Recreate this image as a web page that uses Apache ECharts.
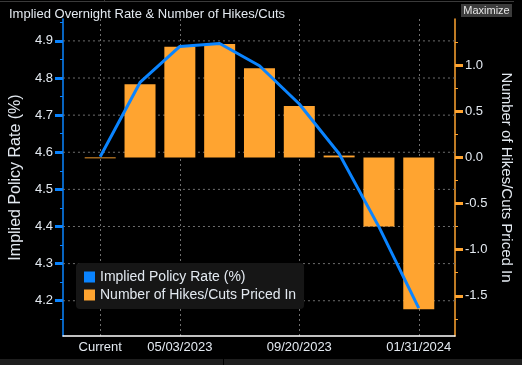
<!DOCTYPE html>
<html>
<head>
<meta charset="utf-8">
<script src="https://cdn.jsdelivr.net/npm/echarts@6/dist/echarts.min.js"></script>
<style>
html,body{margin:0;padding:0;background:#000;}
#chart{width:522px;height:365px;}
</style>
</head>
<body>
<div id="chart"></div>
<script>
const categories = ['Current','03/22/2023','05/03/2023','06/14/2023','07/26/2023','09/20/2023','11/01/2023','12/13/2023','01/31/2024'];
const labelIndices = [0, 2, 5, 8];
const rateTicks = [4.2, 4.3, 4.4, 4.5, 4.6, 4.7, 4.8, 4.9];
const hikesTicks = [-1.5, -1.0, -0.5, 0.0, 0.5, 1.0];
const policyRate = [4.588, 4.788, 4.885, 4.893, 4.833, 4.730, 4.596, 4.399, 4.180];
const hikesCuts = [-0.01, 0.794, 1.198, 1.228, 0.967, 0.556, 0.02, -0.75, -1.647];

const X_MIN = -0.935, X_MAX = 8.91;
const FONT = 'Liberation Sans';
const TXT = '#e3e9f0';
const BLUE = '#0a84ff';
const ORANGE = '#ffa430';
const GRIDC = '#6e6e6e';

const gridSeries = rateTicks.map(v => ({
  name: 'grid ' + v,
  type: 'line', yAxisIndex: 0,
  silent: true, symbol: 'none', showSymbol: false,
  z: 1,
  lineStyle: {color: GRIDC, type: [2, 3], width: 1},
  data: [[X_MIN, v], [X_MAX, v]]
}));

const chart = echarts.init(document.getElementById('chart'), null, {renderer: 'canvas'});
chart.setOption({
  backgroundColor: '#000',
  animation: false,
  textStyle: {fontFamily: FONT},
  title: {
    text: 'Implied Overnight Rate & Number of Hikes/Cuts',
    left: 4, top: 3,
    textStyle: {color: TXT, fontSize: 13, fontWeight: 'normal', fontFamily: FONT}
  },
  graphic: [
    {type: 'line', shape: {x1: 0, y1: 1.5, x2: 514, y2: 1.5}, style: {stroke: '#3a3a3a', lineWidth: 1}},
    {type: 'line', shape: {x1: 104.5, y1: 0, x2: 104.5, y2: 2}, style: {stroke: '#3a3a3a', lineWidth: 1}},
    {type: 'rect', shape: {x: 0, y: 359, width: 522, height: 6}, style: {fill: '#1e1e1e'}},
    {type: 'line', shape: {x1: 223.5, y1: 359, x2: 223.5, y2: 365}, style: {stroke: '#000', lineWidth: 1}},
    {type: 'group', left: 461, top: 4, children: [
      {type: 'rect', shape: {x: 0, y: 0, width: 51, height: 13}, style: {fill: '#3c3c3c'}},
      {type: 'text', x: 25.5, y: 6.5, style: {text: 'Maximize', fill: '#e6e6e6', font: '11px ' + FONT, align: 'center', verticalAlign: 'middle'}}
    ]}
  ],
  legend: {
    orient: 'vertical',
    left: 76, top: 263,
    backgroundColor: '#161616',
    borderRadius: 4,
    padding: [7, 8, 7, 8],
    itemWidth: 11, itemHeight: 11, itemGap: 4,
    icon: 'rect',
    textStyle: {color: TXT, fontSize: 14, fontFamily: FONT},
    data: ['Implied Policy Rate (%)', 'Number of Hikes/Cuts Priced In']
  },
  grid: {left: 58, right: 67, top: 19, bottom: 29, containLabel: false},
  xAxis: {
    type: 'value',
    min: X_MIN, max: X_MAX,
    axisLine: {show: true, onZero: false, lineStyle: {color: '#ffffff', width: 1.5}},
    axisTick: {show: false, customValues: labelIndices},
    axisLabel: {
      customValues: labelIndices,
      color: TXT, fontSize: 13, fontFamily: FONT, margin: 5,
      formatter: v => categories[Math.round(v)]
    },
    splitLine: {show: true, lineStyle: {color: GRIDC, type: [2, 3], width: 1}}
  },
  yAxis: [
    {
      type: 'value', position: 'left',
      min: 4.105, max: 4.959, splitNumber: 8,
      name: 'Implied Policy Rate (%)', nameLocation: 'middle', nameGap: 36,
      nameTextStyle: {color: TXT, fontSize: 16, fontFamily: FONT},
      axisLine: {show: true, onZero: false, lineStyle: {color: BLUE, width: 1.5}},
      axisTick: {show: true, length: 8, customValues: rateTicks, lineStyle: {color: BLUE, width: 3}},
      minorTick: {show: true, splitNumber: 2, length: 3, lineStyle: {color: BLUE, width: 1}},
      axisLabel: {color: TXT, fontSize: 13, fontFamily: FONT, margin: 10, customValues: rateTicks,
        formatter: v => v.toFixed(1)},
      splitLine: {show: false}
    },
    {
      type: 'value', position: 'right',
      min: -1.936, max: 1.5, splitNumber: 7,
      name: 'Number of Hikes/Cuts Priced In', nameLocation: 'middle', nameGap: 42, nameRotate: -90,
      nameTextStyle: {color: TXT, fontSize: 15, fontFamily: FONT},
      axisLine: {show: true, onZero: false, lineStyle: {color: ORANGE, width: 1.5}},
      axisTick: {show: true, length: 8, customValues: hikesTicks, lineStyle: {color: ORANGE, width: 3}},
      minorTick: {show: true, splitNumber: 2, length: 3, lineStyle: {color: ORANGE, width: 1}},
      axisLabel: {color: TXT, fontSize: 13, fontFamily: FONT, margin: 10, customValues: hikesTicks,
        formatter: v => v.toFixed(1)},
      splitLine: {show: false}
    }
  ],
  series: gridSeries.concat([
    {
      name: 'Number of Hikes/Cuts Priced In',
      type: 'bar', yAxisIndex: 1,
      barWidth: 31,
      itemStyle: {color: ORANGE},
      data: hikesCuts.map((v, i) => [i, v]),
      z: 2
    },
    {
      name: 'Implied Policy Rate (%)',
      type: 'line', yAxisIndex: 0,
      showSymbol: false, symbol: 'none',
      lineStyle: {color: BLUE, width: 3},
      itemStyle: {color: BLUE},
      data: policyRate.map((v, i) => [i, v]),
      z: 3
    }
  ])
});
</script>
</body>
</html>
